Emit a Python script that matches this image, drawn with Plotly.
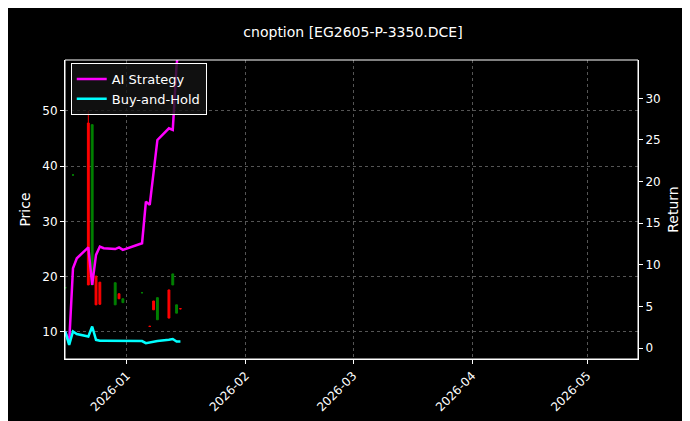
import plotly.graph_objects as go

# candles (price, left axis)
c_dates = ["2025-12-16", "2025-12-18", "2025-12-22", "2025-12-23", "2025-12-24", "2025-12-25",
           "2025-12-29", "2025-12-30", "2025-12-31", "2026-01-05", "2026-01-07", "2026-01-08",
           "2026-01-09", "2026-01-12", "2026-01-13", "2026-01-14", "2026-01-15"]
c_open = [18.0, 38.4, 47.8, 18.5, 20.1, 19.0, 14.9, 16.9, 15.3, 17.1, 11.0, 15.6, 12.2, 17.6, 18.5, 13.4, 14.2]
c_high = [18.1, 38.5, 50.0, 47.5, 20.1, 19.0, 18.9, 16.9, 16.0, 17.2, 11.1, 15.6, 16.2, 17.6, 20.5, 14.9, 14.3]
c_low = [17.9, 38.3, 18.5, 18.5, 14.9, 14.9, 14.9, 16.0, 15.3, 17.0, 10.9, 14.0, 12.2, 12.5, 18.5, 13.4, 14.1]
c_close = [18.0, 38.4, 18.5, 47.5, 14.9, 15.0, 18.9, 16.0, 16.0, 17.1, 11.0, 14.0, 16.2, 12.5, 20.5, 14.9, 14.2]

# returns (right axis)
r_dates = ["2025-12-16", "2025-12-17", "2025-12-18", "2025-12-19", "2025-12-22", "2025-12-23",
           "2025-12-24", "2025-12-25", "2025-12-26", "2025-12-29", "2025-12-30", "2025-12-31",
           "2026-01-05", "2026-01-06", "2026-01-07", "2026-01-08", "2026-01-09", "2026-01-12",
           "2026-01-13", "2026-01-14", "2026-01-15"]
ai_ret = [2.0, 0.6, 9.6, 10.8, 12.1, 7.6, 11.2, 12.2, 12.0, 11.9, 12.1, 11.8,
          12.6, 17.6, 17.2, 21.0, 25.0, 26.4, 26.2, 34.0, 38.0]
bh_ret = [2.0, 0.4, 2.0, 1.7, 1.4, 2.6, 1.0, 0.9, 0.9, 0.9, 0.85, 0.85,
          0.85, 0.6, 0.7, 0.75, 0.85, 1.0, 1.1, 0.8, 0.8]

fig = go.Figure()
fig.add_trace(go.Candlestick(x=c_dates, open=c_open, high=c_high, low=c_low, close=c_close,
                             increasing=dict(line=dict(color="green", width=1), fillcolor="green"),
                             decreasing=dict(line=dict(color="red", width=1), fillcolor="red"),
                             whiskerwidth=0, showlegend=False, yaxis="y"))
fig.add_trace(go.Scatter(x=r_dates, y=ai_ret, mode="lines", name="AI Strategy",
                         line=dict(color="magenta", width=2.5), yaxis="y2"))
fig.add_trace(go.Scatter(x=r_dates, y=bh_ret, mode="lines", name="Buy-and-Hold",
                         line=dict(color="cyan", width=2.5), yaxis="y2"))

ax = dict(showline=True, linecolor="white", ticks="outside", tickcolor="white", ticklen=4,
          gridcolor="#555", griddash="dot", gridwidth=0.6, zeroline=False, color="white",
          automargin=False)
fig.update_layout(
    width=690, height=421, paper_bgcolor="black", plot_bgcolor="black",
    font=dict(family="DejaVu Sans", color="white", size=12),
    title=dict(text="cnoption [EG2605-P-3350.DCE]", x=0.5, xanchor="center", y=0.955, font=dict(size=14)),
    margin=dict(l=57, r=60, t=52, b=70, autoexpand=False),
    xaxis=dict(**ax, type="date", range=["2025-12-15T22:00", "2026-05-14T06:00"],
               tickvals=["2026-01-01", "2026-02-01", "2026-03-01", "2026-04-01", "2026-05-01"],
               ticktext=["2026-01", "2026-02", "2026-03", "2026-04", "2026-05"],
               tickangle=-45, rangeslider=dict(visible=False)),
    yaxis=dict(**ax, title=dict(text="Price", standoff=8), range=[5.1, 59.2], tickvals=[10, 20, 30, 40, 50]),
    yaxis2=dict(**ax, title=dict(text="Return", standoff=8), overlaying="y", side="right",
                range=[-1.3, 34.6], tickvals=[0, 5, 10, 15, 20, 25, 30], showgrid=False),
    legend=dict(x=0.01, y=0.99, xanchor="left", yanchor="top", bgcolor="rgba(20,20,20,0.8)",
                bordercolor="white", borderwidth=1, font=dict(size=13)),
    shapes=[dict(type="rect", xref="paper", yref="paper", x0=0, x1=1, y0=0, y1=1,
                 line=dict(color="white", width=1))],
)
fig.write_html("out.html")
